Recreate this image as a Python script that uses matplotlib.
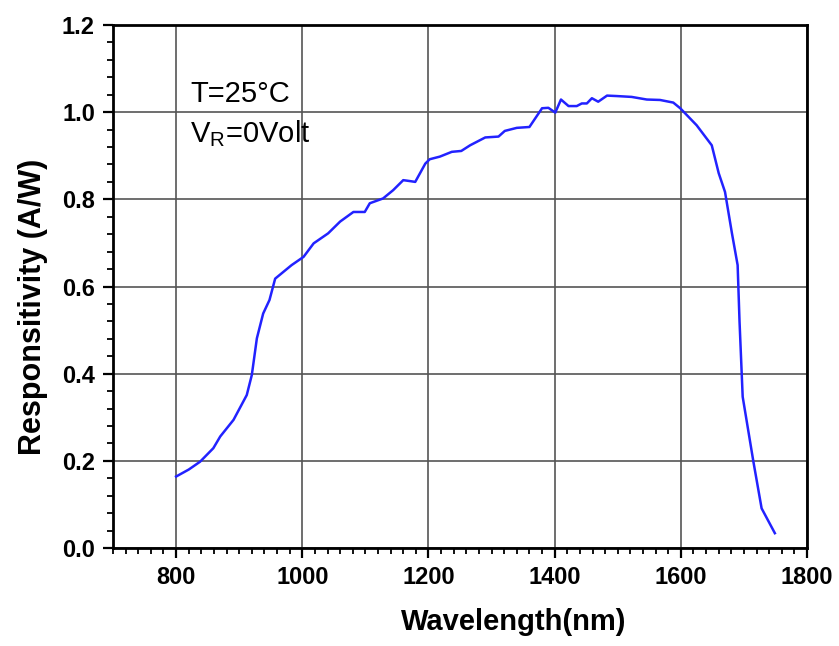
import matplotlib
matplotlib.use("Agg")
import matplotlib.pyplot as plt
from matplotlib.ticker import MultipleLocator

plt.rcParams['font.family'] = ['Liberation Sans', 'DejaVu Sans']
plt.rcParams['mathtext.fontset'] = 'custom'
plt.rcParams['mathtext.rm'] = 'Liberation Sans'

# ------------------------------------------------------------
# Responsivity curve
# ------------------------------------------------------------
wavelength = [800, 820, 838, 859, 870, 891, 912, 920, 924, 928, 938, 948, 957,
              983, 1002, 1018, 1041, 1060, 1081, 1099, 1107, 1128, 1144, 1160,
              1170, 1179, 1195, 1202, 1218, 1237, 1252, 1266, 1290, 1311, 1321,
              1340, 1360, 1380, 1390, 1401, 1410, 1422, 1435, 1443, 1451, 1459,
              1469, 1483, 1498, 1522, 1546, 1567, 1588, 1599, 1625, 1649, 1660,
              1670, 1681, 1690, 1693, 1698, 1715, 1728, 1749]
responsivity = [0.164, 0.180, 0.198, 0.229, 0.256, 0.294, 0.351, 0.397, 0.439,
                0.481, 0.538, 0.569, 0.618, 0.649, 0.668, 0.699, 0.722, 0.749,
                0.771, 0.771, 0.791, 0.802, 0.821, 0.844, 0.842, 0.840, 0.882,
                0.892, 0.898, 0.909, 0.911, 0.924, 0.942, 0.944, 0.957, 0.964,
                0.966, 1.009, 1.010, 0.999, 1.029, 1.014, 1.014, 1.020, 1.020,
                1.032, 1.024, 1.038, 1.037, 1.035, 1.029, 1.028, 1.022, 1.009,
                0.970, 0.924, 0.860, 0.817, 0.722, 0.649, 0.520, 0.347, 0.198,
                0.091, 0.034]

fig = plt.figure(figsize=(8.39, 6.46), dpi=100)
ax = fig.add_axes([0.1347, 0.1517, 0.8272, 0.8096])

ax.plot(wavelength, responsivity, color="#2222ff", linewidth=1.8, zorder=3)

ax.set_xlim(700, 1800)
ax.set_ylim(0, 1.2)
ax.xaxis.set_major_locator(MultipleLocator(200))
ax.xaxis.set_minor_locator(MultipleLocator(20))
ax.yaxis.set_major_locator(MultipleLocator(0.2))
ax.yaxis.set_minor_locator(MultipleLocator(0.04))
ax.set_yticks([0.0, 0.2, 0.4, 0.6, 0.8, 1.0, 1.2])
ax.set_yticklabels(["0.0", "0.2", "0.4", "0.6", "0.8", "1.0", "1.2"])
ax.set_xticks([800, 1000, 1200, 1400, 1600, 1800])

ax.grid(True, which="major", color="#555555", linewidth=1.2)
ax.tick_params(which="major", direction="out", length=7, width=1.6,
               labelsize=17, pad=6)
ax.tick_params(which="minor", direction="out", length=4, width=1.3)
for lbl in ax.get_xticklabels() + ax.get_yticklabels():
    lbl.set_fontweight("bold")
for s in ax.spines.values():
    s.set_linewidth(2.0)

ax.set_xlabel("Wavelength(nm)", fontsize=21, fontweight="bold")
ax.set_ylabel("Responsitivity (A/W)", fontsize=22, fontweight="bold")
ax.xaxis.set_label_coords(0.578, -0.115)
ax.yaxis.set_label_coords(-0.093, 0.461)

ax.text(822, 1.023, "T=25\u00b0C", fontsize=21, va="baseline")
ax.text(822, 0.931, r"V$_\mathrm{R}$=0Volt", fontsize=21, va="baseline")

fig.savefig("out.png", dpi=100)
